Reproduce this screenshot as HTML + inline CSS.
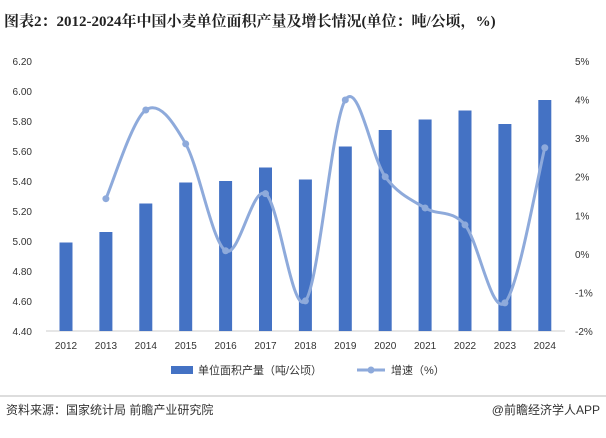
<!DOCTYPE html>
<html><head><meta charset="utf-8"><style>
body{margin:0;width:606px;height:433px;background:#fff;font-family:"Liberation Sans","Noto Sans CJK SC",sans-serif;overflow:hidden}
</style></head><body>
<svg id="c" width="606" height="433" xmlns="http://www.w3.org/2000/svg">
<text x="4" y="26" font-size="15" font-weight="bold" fill="#222" font-family="Liberation Serif,Noto Serif CJK SC,serif">图表2：2012-2024年中国小麦单位面积产量及增长情况(单位：吨/公顷，%)</text>
<line x1="0" y1="396" x2="606" y2="396" stroke="#bbb" stroke-width="1"/>
<text x="6" y="414" font-size="12" fill="#333">资料来源：国家统计局 前瞻产业研究院</text>
<text x="600" y="414" font-size="12" fill="#333" text-anchor="end">@前瞻经济学人APP</text>
<g id="g"></g>
</svg>
<script>
const years=["2012","2013","2014","2015","2016","2017","2018","2019","2020","2021","2022","2023","2024"];
const yieldVals=[4.99,5.06,5.25,5.39,5.40,5.49,5.41,5.63,5.74,5.81,5.87,5.78,5.94];
const growth=[null,1.43,3.73,2.85,0.08,1.56,-1.22,3.99,2.0,1.19,0.75,-1.27,2.75];
const leftTicks=[4.40,4.60,4.80,5.00,5.20,5.40,5.60,5.80,6.00,6.20];
const rightTicks=[-2,-1,0,1,2,3,4,5];
const NS="http://www.w3.org/2000/svg",g=document.getElementById('g');
const yTop=61,bot=331,x0=66,dx=39.9;
const yL=v=>bot-(v-4.4)/(6.2-4.4)*(bot-yTop);
const yR=v=>bot-(v+2)/7*(bot-yTop);
const xs=i=>x0+i*dx;
function mk(t,a,txt){const e=document.createElementNS(NS,t);for(const k in a)e.setAttribute(k,a[k]);if(txt!=null)e.textContent=txt;g.appendChild(e);return e;}
leftTicks.forEach(v=>{const e=mk('text',{x:32,y:yL(v)+4,'font-size':10,fill:'#333','text-anchor':'end'},v.toFixed(2));

});
rightTicks.forEach(v=>{const e=mk('text',{x:575,y:yR(v)+4,'font-size':10,fill:'#333'},v+'%');

});
const ax=mk('line',{x1:46,y1:bot,x2:565,y2:bot,stroke:'#ccc'});


years.forEach((y,i)=>{const b=mk('rect',{x:xs(i)-6.5,y:yL(yieldVals[i]),width:13,height:bot-yL(yieldVals[i]),fill:'#4472c4'});


const t=mk('text',{x:xs(i),y:349,'font-size':10,fill:'#333','text-anchor':'middle'},y);

});
const pts=[];growth.forEach((v,i)=>{if(v!=null)pts.push([xs(i),yR(v)]);});
let d='M'+pts[0][0]+','+pts[0][1];
for(let i=0;i<pts.length-1;i++){const p0=pts[Math.max(i-1,0)],p1=pts[i],p2=pts[i+1],p3=pts[Math.min(i+2,pts.length-1)];
d+=' C'+(p1[0]+(p2[0]-p0[0])/6)+','+(p1[1]+(p2[1]-p0[1])/6)+' '+(p2[0]-(p3[0]-p1[0])/6)+','+(p2[1]-(p3[1]-p1[1])/6)+' '+p2[0]+','+p2[1];}
const ln=mk('path',{d:d,fill:'none',stroke:'#8eaadb','stroke-width':3});


pts.forEach(p=>{const c=mk('circle',{cx:p[0],cy:p[1],r:3.5,fill:'#8eaadb'});

});
const l1=mk('rect',{x:171,y:366,width:22,height:8,fill:'#4472c4'});


const l1t=mk('text',{x:198,y:374,'font-size':11,fill:'#333'},'单位面积产量（吨/公顷）');


const l2=mk('line',{x1:357,y1:370,x2:385,y2:370,stroke:'#8eaadb','stroke-width':3});


const l2c=mk('circle',{cx:371,cy:370,r:3.5,fill:'#8eaadb'});


const l2t=mk('text',{x:391,y:374,'font-size':11,fill:'#333'},'增速（%）');


</script>
</body></html>
